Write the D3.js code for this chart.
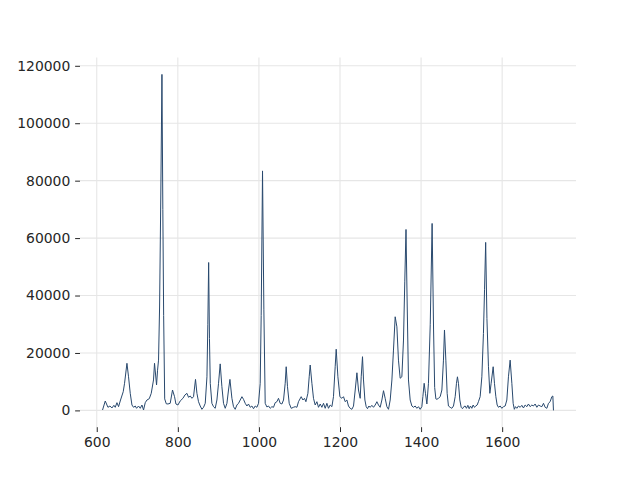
<!DOCTYPE html>
<html><head><meta charset="utf-8">
<script src="https://cdn.jsdelivr.net/npm/d3@7"></script>
<style>body{margin:0;background:#fff}svg{display:block}</style>
</head><body>
<script>
const wavenumber = [614.3,621,627.6,632.5,637.4,642.3,645.6,649.8,653.8,658.7,665.3,668.6,674.5,678.4,682.6,686.8,690.8,695,698.2,703,707.3,711.5,715.4,719.6,723.8,729.5,734.4,740,742.5,747.5,750,752.4,755,758,760.8,763,765,767.6,771.5,775.6,781.2,786.9,791.9,795.3,800.2,805.9,812.6,817.5,822.4,826.4,830.6,834.8,838.7,843.6,847.1,851,855.2,859.4,863.4,867.6,871.8,874,876,878,880,884,888,892.2,896.4,900.4,904.5,908.7,912.7,916.9,921.1,925,928.5,933.4,937.3,941.5,945.7,949.7,953.9,958.1,962,966.2,970.4,974.3,978.5,982.7,986.7,990.9,995,999,1003.2,1005.6,1008.9,1012.2,1015.5,1019.7,1023.7,1027.9,1032,1036,1040.2,1044.4,1048.3,1052.5,1056.7,1060.7,1064.8,1067.3,1070.5,1074.7,1079.6,1085.3,1089.5,1093.7,1097.6,1104.3,1108.5,1112.4,1115.9,1120.8,1124,1126.5,1130.7,1134.6,1138.8,1143,1147,1151.2,1155.3,1159.3,1163.5,1167.7,1171.6,1175.8,1180,1183.9,1188.1,1190.6,1194.8,1199.7,1204.7,1208.6,1212.8,1217,1220.9,1225.1,1229.3,1233.3,1237.5,1241.7,1245.6,1249.8,1252.3,1255.5,1258,1261.4,1264.6,1267.8,1271.2,1274.4,1278.6,1282.6,1286.8,1291,1294.9,1299.1,1303.3,1307.3,1311.4,1315.6,1319.6,1323.8,1328,1331.9,1336.1,1340.3,1344.2,1348.4,1352.6,1356.6,1359.8,1362.8,1365.8,1368.9,1373.1,1377.3,1381.2,1385.4,1389.6,1393.6,1397.7,1401.9,1404.4,1407.6,1410.8,1414.3,1418.2,1422.6,1427.2,1430.8,1433.5,1436.5,1438.9,1442.9,1447.1,1451.3,1455.2,1457.7,1461.1,1464.3,1467.5,1471.7,1475.9,1479.9,1484.1,1487.3,1489.7,1492.2,1495.6,1498.9,1502.1,1505.5,1508.7,1511.9,1515.4,1518.6,1521.8,1525.2,1528.4,1531.7,1535.1,1538.3,1541.5,1545.7,1549.9,1553.8,1556.5,1559.3,1562.4,1566.2,1569.6,1572.8,1577.8,1581,1584.4,1587.6,1590.9,1595,1599.2,1603.2,1607.4,1611.5,1615.5,1619.7,1623.9,1627.1,1630,1632.8,1636.2,1640.2,1644.4,1648.5,1652.5,1656.7,1660.9,1664.8,1669,1673.2,1677.1,1681.3,1685.5,1689.5,1693.7,1697.9,1701.9,1706,1710.2,1714.2,1718.3,1722.5,1725,1726.5];
const intensity = [140,3270,1080,1530,840,1770,1080,2690,1300,3620,6500,9440,16400,11700,5950,1880,1080,1530,730,1530,730,1880,140,2690,3620,4070,5950,10600,16400,8840,14000,17500,36000,75000,117000,70000,33000,4000,2300,2230,2470,7100,4770,2230,1880,3300,4210,5360,5950,4560,5010,4210,4770,10800,5950,3030,1530,380,1080,2470,11700,30000,51500,25000,9400,2470,1300,730,3620,9440,16200,8250,2470,730,2470,7100,10800,4210,1300,380,1880,2470,3620,4770,3860,2470,1530,2230,1080,1530,590,1530,1080,2470,9440,33000,83400,35000,2470,1200,1530,730,1300,1080,2690,3030,4210,2470,2230,3620,9440,15200,8250,2470,730,1080,1300,1080,3030,4770,3620,4210,3030,5950,11700,15800,9440,4210,1880,3030,1080,2230,1080,2470,730,2470,730,1880,1300,4770,15200,21300,11700,4770,4210,4770,3030,3620,1530,730,380,1500,7100,13100,7100,4210,11700,18700,10600,3620,1300,590,1530,1080,1770,1080,1880,3030,1880,1080,3620,6860,4210,1300,380,3620,10600,21000,32600,29100,17500,11200,11700,24500,45000,63000,36000,10600,3620,1530,1080,1530,730,1300,380,1300,4770,9440,5950,2230,9440,30000,65100,28000,8000,4000,3860,4210,4770,7100,17500,28000,17500,5950,1530,1080,730,1530,4770,9440,11700,9440,3620,1080,590,1300,1530,730,1770,590,1530,730,1880,1080,1530,1880,3030,4770,11700,26800,42000,58500,32000,15200,5950,9440,15200,9440,4770,1880,1080,1530,730,1300,1530,3620,11700,17500,9440,2470,380,1300,730,1530,1080,1770,840,1880,1300,2230,1300,1880,1530,2230,1080,1880,1530,1300,2470,1080,730,2470,3030,4770,5010,0];
const xTickValues = [600,800,1000,1200,1400,1600];
const yTickValues = [0,20000,40000,60000,80000,100000,120000];

const W = 640, H = 480;
const L = 80, R = 576, T = 57.6, B = 427.2;
const data = wavenumber.map((w,i)=>({x:w,y:intensity[i]}));

const xe = d3.extent(wavenumber), ye = d3.extent(intensity);
const xp = (xe[1]-xe[0])*0.05, yp = (ye[1]-ye[0])*0.05;
const x = d3.scaleLinear().domain([xe[0]-xp, xe[1]+xp]).range([L, R]);
const y = d3.scaleLinear().domain([ye[0]-yp, ye[1]+yp]).range([B, T]);

const svg = d3.select("body").append("svg").attr("width",W).attr("height",H);
svg.append("rect").attr("width",W).attr("height",H).attr("fill","#fff");

const tick = 4.86, pad = 4.86;
const font = "'DejaVu Sans', sans-serif";

// grid
const grid = svg.append("g");
grid.selectAll("line.v").data(xTickValues).join("line")
  .attr("x1",d=>x(d)).attr("x2",d=>x(d)).attr("y1",T).attr("y2",B)
  .attr("stroke","#e6e6e6").attr("stroke-width",1.1);
grid.selectAll("line.h").data(yTickValues).join("line")
  .attr("y1",d=>y(d)).attr("y2",d=>y(d)).attr("x1",L).attr("x2",R)
  .attr("stroke","#e6e6e6").attr("stroke-width",1.1);

// axes
const xAxis = svg.append("g").attr("transform",`translate(0,${B})`)
  .call(d3.axisBottom(x).tickValues(xTickValues).tickFormat(d3.format("d")).tickSize(tick).tickPadding(pad));
const yAxis = svg.append("g").attr("transform",`translate(${L},0)`)
  .call(d3.axisLeft(y).tickValues(yTickValues).tickFormat(d3.format("d")).tickSize(tick).tickPadding(pad));
[xAxis,yAxis].forEach(a=>{
  a.select(".domain").remove();
  a.selectAll(".tick line").attr("stroke","#262626").attr("stroke-width",1);
  a.selectAll("text").attr("fill","#262626").attr("font-family",font).attr("font-size","13.9px");
});

// line
svg.append("path").datum(data)
  .attr("fill","none").attr("stroke","#29496e").attr("stroke-width",1)
  .attr("stroke-linejoin","round")
  .attr("d", d3.line().x(d=>x(d.x)).y(d=>y(d.y)));
</script>
</body></html>
